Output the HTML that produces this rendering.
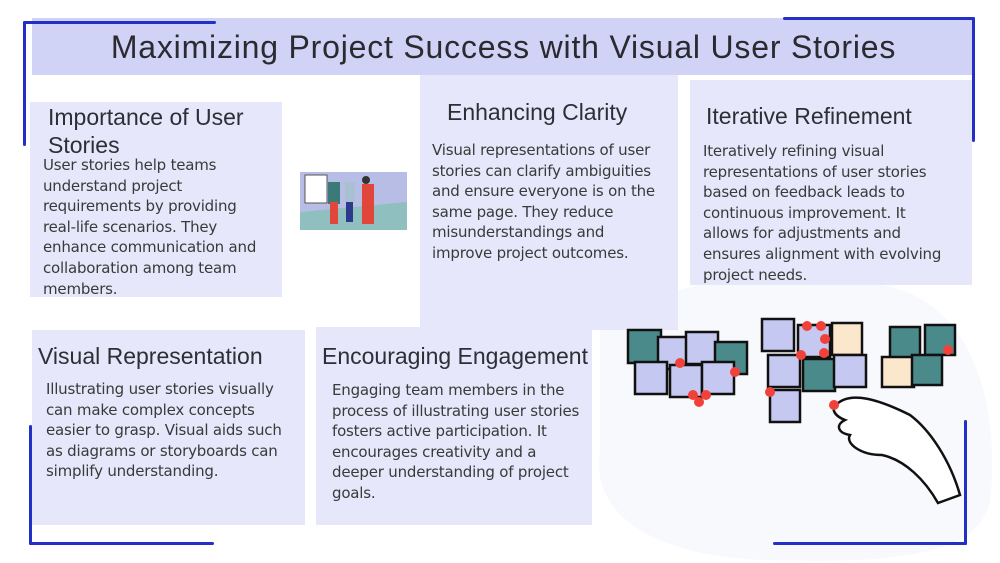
<!DOCTYPE html>
<html><head><meta charset="utf-8"><style>
body{margin:0;width:1000px;height:563px;background:#fff;position:relative;overflow:hidden;font-family:"DejaVu Sans","Liberation Sans",sans-serif;}
.b{position:absolute;background:#e6e7fa;}
.t{position:absolute;font-family:"Liberation Sans",sans-serif;font-size:23px;color:#2e2e36;line-height:28px;white-space:nowrap}
.p{position:absolute;font-size:15px;line-height:20.6px;color:#3a3a3a;white-space:nowrap;letter-spacing:-0.2px}
.ln{position:absolute;background:#2330c8;border-radius:2px}
</style></head><body>
<svg style="position:absolute;left:0;top:0" width="1000" height="563">
<path d="M600 330 C640 290 760 260 880 285 C980 300 1000 420 990 500 C980 560 880 563 760 560 C660 555 590 520 600 450 Z" fill="#f8f9fd"/>
</svg>
<div class="b" style="left:32px;top:18px;width:943px;height:57px;background:#d0d3f5"></div>
<div style="position:absolute;left:32px;top:29px;width:943px;text-align:center;font-family:'Liberation Sans',sans-serif;font-size:32px;color:#2a2a30;letter-spacing:0.8px">Maximizing Project Success with Visual User Stories</div>

<div class="b" style="left:30px;top:102px;width:252px;height:195px"></div>
<div class="t" style="left:48px;top:103px">Importance of User<br>Stories</div>
<div class="p" style="left:43px;top:155px">User stories help teams<br>understand project<br>requirements by providing<br>real-life scenarios. They<br>enhance communication and<br>collaboration among team<br>members.</div>

<div class="b" style="left:420px;top:75px;width:258px;height:255px"></div>
<div class="t" style="left:447px;top:98px">Enhancing Clarity</div>
<div class="p" style="left:432px;top:140px">Visual representations of user<br>stories can clarify ambiguities<br>and ensure everyone is on the<br>same page. They reduce<br>misunderstandings and<br>improve project outcomes.</div>

<div class="b" style="left:690px;top:80px;width:282px;height:205px"></div>
<div class="t" style="left:706px;top:102px">Iterative Refinement</div>
<div class="p" style="left:703px;top:141px">Iteratively refining visual<br>representations of user stories<br>based on feedback leads to<br>continuous improvement. It<br>allows for adjustments and<br>ensures alignment with evolving<br>project needs.</div>

<div class="b" style="left:32px;top:330px;width:273px;height:195px"></div>
<div class="t" style="left:38px;top:342px">Visual Representation</div>
<div class="p" style="left:46px;top:379px">Illustrating user stories visually<br>can make complex concepts<br>easier to grasp. Visual aids such<br>as diagrams or storyboards can<br>simplify understanding.</div>

<div class="b" style="left:316px;top:327px;width:276px;height:198px"></div>
<div class="t" style="left:322px;top:342px">Encouraging Engagement</div>
<div class="p" style="left:332px;top:380px">Engaging team members in the<br>process of illustrating user stories<br>fosters active participation. It<br>encourages creativity and a<br>deeper understanding of project<br>goals.</div>

<svg style="position:absolute;left:300px;top:172px" width="107" height="58">
<rect width="107" height="58" fill="#b8bde6"/><polygon points="0,40 107,30 107,58 0,58" fill="#8fbfbf"/>
<rect x="5" y="3" width="22" height="28" fill="#fff" stroke="#555"/>
<rect x="28" y="10" width="12" height="22" fill="#3c7a7a"/><rect x="30" y="30" width="8" height="22" fill="#e0463a"/>
<rect x="45" y="10" width="10" height="20" fill="#a8c0d0"/><rect x="46" y="30" width="7" height="20" fill="#2b3a8a"/>
<rect x="62" y="12" width="12" height="40" fill="#e0463a"/><circle cx="66" cy="8" r="4" fill="#333"/>
</svg>

<svg style="position:absolute;left:620px;top:315px" width="350" height="200">
<g stroke="#111" stroke-width="2.5">
<rect x="8" y="15" width="33" height="33" fill="#4a8a8a"/><rect x="38" y="22" width="32" height="32" fill="#c5c8f0"/>
<rect x="66" y="17" width="32" height="32" fill="#c5c8f0"/><rect x="95" y="27" width="32" height="32" fill="#4a8a8a"/>
<rect x="15" y="47" width="32" height="32" fill="#c5c8f0"/><rect x="50" y="50" width="32" height="32" fill="#c5c8f0"/>
<rect x="82" y="47" width="32" height="32" fill="#c5c8f0"/>
<rect x="142" y="4" width="32" height="32" fill="#c5c8f0"/><rect x="178" y="10" width="32" height="32" fill="#c5c8f0"/>
<rect x="212" y="8" width="30" height="32" fill="#fbe8cc"/><rect x="148" y="40" width="32" height="32" fill="#c5c8f0"/>
<rect x="183" y="44" width="32" height="32" fill="#4a8a8a"/><rect x="214" y="40" width="32" height="32" fill="#c5c8f0"/>
<rect x="150" y="75" width="30" height="32" fill="#c5c8f0"/>
<rect x="270" y="12" width="30" height="32" fill="#4a8a8a"/><rect x="305" y="10" width="30" height="30" fill="#4a8a8a"/>
<rect x="262" y="42" width="32" height="30" fill="#fbe8cc"/><rect x="292" y="40" width="30" height="30" fill="#4a8a8a"/>
<path d="M216 90 C230 75 260 85 290 100 C310 115 330 145 340 180 L318 188 C305 165 285 145 262 140 C240 140 225 128 230 120 C218 118 215 110 225 105 C212 100 212 92 216 90 Z" fill="#fff"/>
</g>
<g fill="#f0423a"><circle cx="60" cy="48" r="5"/><circle cx="115" cy="57" r="5"/><circle cx="73" cy="80" r="5"/><circle cx="86" cy="80" r="5"/><circle cx="79" cy="87" r="5"/>
<circle cx="187" cy="11" r="5"/><circle cx="201" cy="11" r="5"/><circle cx="205" cy="24" r="5"/><circle cx="181" cy="40" r="5"/><circle cx="204" cy="38" r="5"/><circle cx="150" cy="77" r="5"/><circle cx="214" cy="90" r="5"/><circle cx="328" cy="35" r="5"/></g>
</svg>

<div class="ln" style="left:23px;top:21px;width:193px;height:3px"></div>
<div class="ln" style="left:23px;top:21px;width:3px;height:125px"></div>
<div class="ln" style="left:783px;top:17px;width:192px;height:3px"></div>
<div class="ln" style="left:972px;top:17px;width:3px;height:125px"></div>
<div class="ln" style="left:29px;top:425px;width:3px;height:120px"></div>
<div class="ln" style="left:29px;top:542px;width:185px;height:3px"></div>
<div class="ln" style="left:773px;top:542px;width:194px;height:3px"></div>
<div class="ln" style="left:964px;top:420px;width:3px;height:125px"></div>
</body></html>
